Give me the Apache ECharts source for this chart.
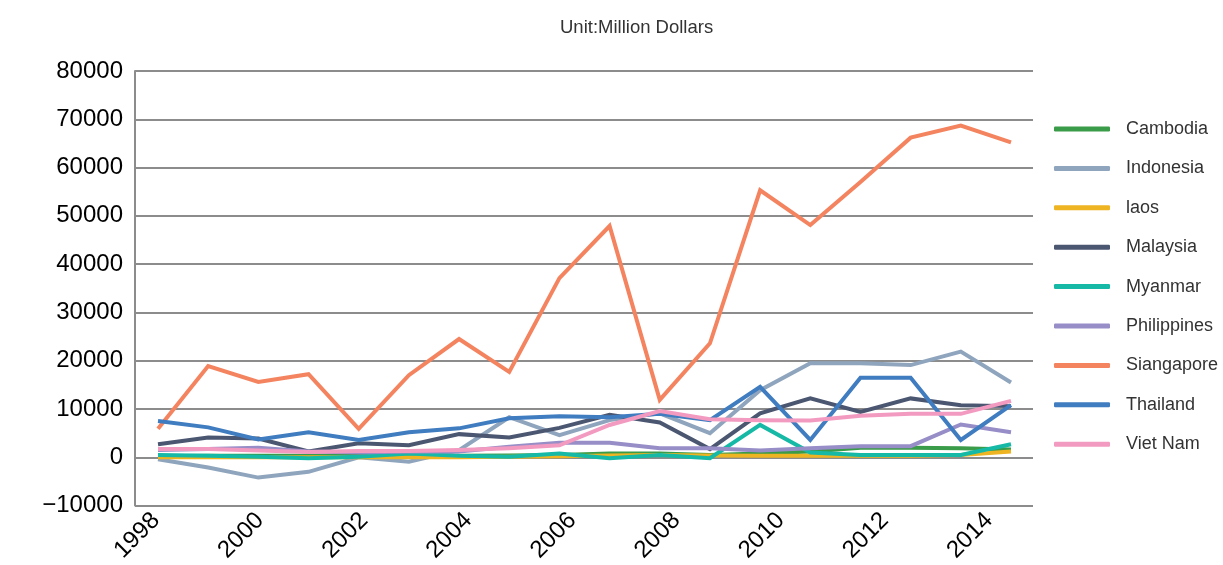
<!DOCTYPE html>
<html>
<head>
<meta charset="utf-8">
<script src="https://cdn.jsdelivr.net/npm/echarts@6/dist/echarts.min.js"></script>
<style>
  html, body { margin: 0; padding: 0; background: #ffffff; }
  #chart { width: 1223px; height: 565px; }
</style>
</head>
<body>
<div id="chart"></div>
<script>
// Reporting periods carried by the series, and the year labels printed on the axis
const periods   = ['1998','1999','2000','2001','2002','2003','2004','2005','2006','2007','2008','2009','2010','2011','2012','2013','2014','2015'];
const tickYears = ['1998','1999','2000','2001','2002','2003','2004','2005','2006','2007','2008','2009','2010','2011','2012','2013','2014'];

// Values in million dollars
const cambodia    = [200, 300, 300, 300, 300, 300, 300, 400, 500, 800, 800, 500, 800, 1200, 2000, 2000, 1900, 1600];
const indonesia   = [-400, -2100, -4200, -3000, 0, -900, 1500, 8300, 4600, 7700, 9100, 5000, 13900, 19500, 19500, 19100, 21900, 15500];
const laos        = [0, 0, 0, 0, 0, 0, 0, 100, 200, 400, 500, 400, 300, 300, 300, 300, 500, 1200];
const malaysia    = [2700, 4100, 3900, 1200, 2900, 2500, 4800, 4100, 6100, 8800, 7200, 1700, 9100, 12200, 9400, 12200, 10800, 10600];
const myanmar     = [500, 300, 100, -200, 100, 800, 300, 100, 800, -200, 500, -200, 6700, 1000, 500, 500, 500, 2700];
const philippines = [1500, 1700, 2000, 1200, 1000, 1200, 1200, 2200, 3000, 3000, 1900, 1900, 1400, 1900, 2300, 2300, 6800, 5200];
const singapore   = [5900, 18900, 15600, 17200, 5900, 17000, 24500, 17700, 37100, 47900, 11900, 23600, 55300, 48100, 57000, 66200, 68700, 65200];
const thailand    = [7500, 6200, 3700, 5200, 3600, 5200, 6000, 8100, 8500, 8300, 9000, 7700, 14600, 3600, 16500, 16500, 3600, 10800];
const vietnam     = [1700, 1700, 1400, 1100, 1300, 1300, 1500, 1900, 2500, 6700, 9600, 7900, 7700, 7600, 8600, 9000, 9000, 11700];

const seriesDefs = [
  { name: 'Cambodia',    data: cambodia,    color: '#3a9b48' },
  { name: 'Indonesia',   data: indonesia,   color: '#8fa5bd' },
  { name: 'laos',        data: laos,        color: '#eeb422' },
  { name: 'Malaysia',    data: malaysia,    color: '#4b5671' },
  { name: 'Myanmar',     data: myanmar,     color: '#16b8a6' },
  { name: 'Philippines', data: philippines, color: '#978dc7' },
  { name: 'Siangapore',  data: singapore,   color: '#f4845f' },
  { name: 'Thailand',    data: thailand,    color: '#3f7cc0' },
  { name: 'Viet Nam',    data: vietnam,     color: '#f39ac0' }
];

const FONT = '"Liberation Sans", Arial, Helvetica, sans-serif';
const TOP = 71, BOTTOM = 59.4;
const Y_MIN = -10000, Y_MAX = 80000, Y_STEP = 10000;

function hiddenY(gridIndex) {
  return { type: 'value', gridIndex, min: Y_MIN, max: Y_MAX, interval: Y_STEP, show: false, splitLine: { show: false } };
}

const chart = echarts.init(document.getElementById('chart'), null, { renderer: 'canvas' });

chart.setOption({
  animation: false,
  backgroundColor: '#ffffff',
  title: {
    text: 'Unit:Million Dollars',
    left: 555, top: 13,
    textStyle: { fontFamily: FONT, fontSize: 18.5, fontWeight: 'normal', color: '#333333' }
  },
  legend: {
    orient: 'vertical',
    left: 1049, top: 114,
    itemWidth: 56, itemHeight: 5,
    itemGap: 19.4,
    icon: 'roundRect',
    data: seriesDefs.map(s => s.name),
    textStyle: { fontFamily: FONT, fontSize: 18, color: '#333333', lineHeight: 20, padding: [0, 0, 0, 11] }
  },
  grid: [
    // frame: y axis, horizontal rules
    { left: 135, right: 190, top: TOP, bottom: BOTTOM },
    // line series
    { left: 158, right: 212, top: TOP, bottom: BOTTOM },
    // year labels
    { left: 156, right: 234, top: TOP, bottom: BOTTOM }
  ],
  xAxis: [
    { type: 'category', gridIndex: 0, data: tickYears, show: false },
    { type: 'category', gridIndex: 1, data: periods, boundaryGap: false, show: false },
    {
      type: 'category', gridIndex: 2, data: tickYears, boundaryGap: false,
      axisLine: { show: false }, axisTick: { show: false },
      axisLabel: { interval: 1, rotate: 45, margin: 12, fontFamily: FONT, fontSize: 24, color: '#000000' }
    }
  ],
  yAxis: [
    {
      type: 'value', gridIndex: 0, min: Y_MIN, max: Y_MAX, interval: Y_STEP,
      axisLine: { show: true, lineStyle: { color: '#8c8c8c', width: 2 } },
      axisTick: { show: false },
      splitLine: { show: true, lineStyle: { color: '#8c8c8c', width: 2 } },
      axisLabel: {
        margin: 12, fontFamily: FONT, fontSize: 24, color: '#000000',
        padding: [4, 0, 0, 0],
        formatter: v => (v < 0 ? '\u2212' + Math.abs(v) : String(v))
      }
    },
    hiddenY(1),
    hiddenY(2)
  ],
  series: seriesDefs.map(s => ({
    name: s.name,
    type: 'line',
    xAxisIndex: 1, yAxisIndex: 1,
    data: s.data,
    color: s.color,
    symbol: 'none',
    lineStyle: { width: 4, color: s.color, join: 'miter' },
    emphasis: { disabled: true }
  }))
});
</script>
</body>
</html>
